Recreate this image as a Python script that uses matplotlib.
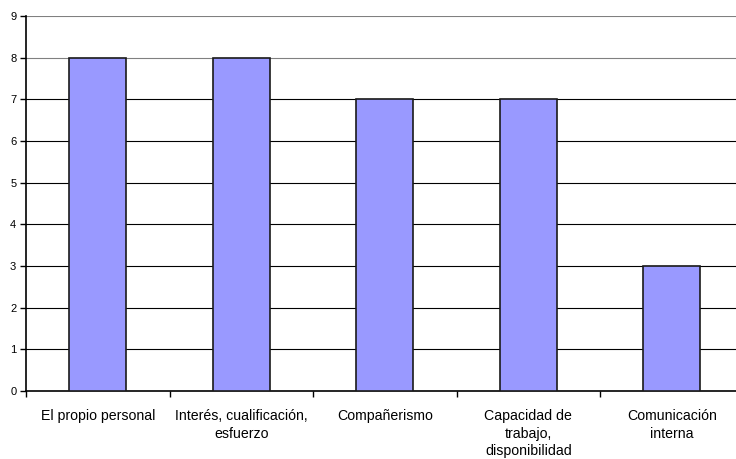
import matplotlib
matplotlib.use("Agg")
import matplotlib.pyplot as plt
import numpy as np

categories = ["El propio personal", "Interés, cualificación,\nesfuerzo",
              "Compañerismo", "Capacidad de\ntrabajo,\ndisponibilidad",
              "Comunicación\ninterna"]
values = [8, 8, 7, 7, 3]
y_ticks = [0, 1, 2, 3, 4, 5, 6, 7, 8, 9]

plt.rcParams['font.family'] = ['Liberation Sans', 'DejaVu Sans']

W, H = 736, 459
fig = plt.figure(figsize=(W / 100, H / 100), dpi=100)
left, right, top, bottom = 26, 743.5, 16, 391
ax = fig.add_axes([left / W, 1 - bottom / H, (right - left) / W, (bottom - top) / H])

x = np.arange(len(categories))
ax.bar(x, values, width=0.4, color="#9999FF", edgecolor="#1a1a1a", linewidth=1.2, zorder=3)

ax.set_xlim(-0.5, len(categories) - 0.5)
ax.set_ylim(0, 9)
ax.set_yticks(y_ticks)
ax.tick_params(axis='y', labelsize=8, length=4, width=1, direction='out', pad=3)

for yv in y_ticks[1:]:
    ax.axhline(yv, color="#000000" if yv < 8 else "#808080", linewidth=0.8, zorder=1)

ax.set_xticks(x)
ax.set_xticklabels(categories, fontsize=10.2, linespacing=1.32)
ax.tick_params(axis='x', which='major', length=0, pad=13)
ax.set_xticks(np.arange(len(categories) + 1) - 0.5, minor=True)
ax.tick_params(axis='x', which='minor', length=4, width=1, direction='out')

for s in ["top", "right"]:
    ax.spines[s].set_visible(False)
for s in ["left", "bottom"]:
    ax.spines[s].set_linewidth(1.2)
    ax.spines[s].set_color("#000000")

fig.savefig("out.png", dpi=100)
